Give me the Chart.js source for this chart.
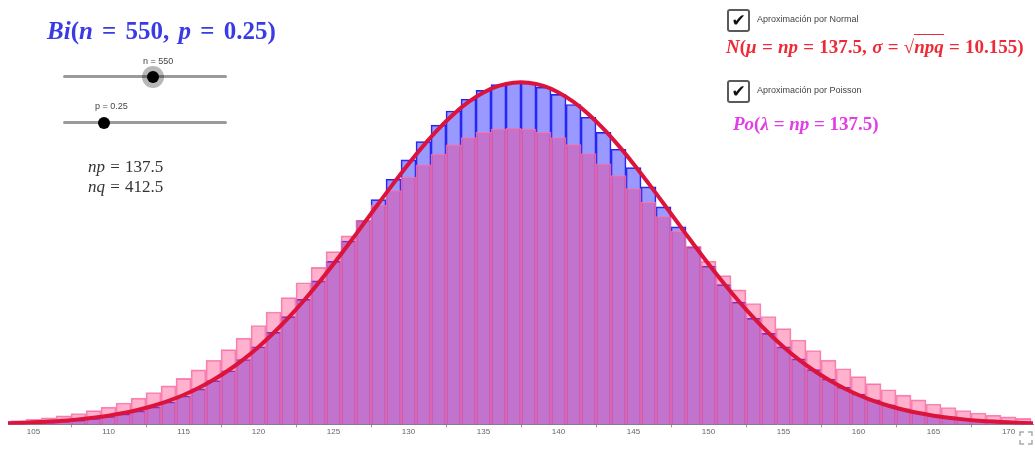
<!DOCTYPE html>
<html>
<head>
<meta charset="utf-8">
<script src="https://cdn.jsdelivr.net/npm/chart.js@4.4.1/dist/chart.umd.min.js"></script>
<style>
  html, body { margin: 0; padding: 0; background: #fff; }
  #wrap { position: relative; width: 1035px; height: 450px; overflow: hidden; }
  #chart { position: absolute; left: 0; top: 0; }
  .txt { position: absolute; white-space: nowrap; }
  .math { font-family: "Liberation Serif", serif; font-weight: bold; }
  .small { font-family: "Liberation Sans", Arial, sans-serif; font-size: 9px; color: #444; }
  .track { position: absolute; height: 3px; background: #9a9a9a; border-radius: 2px; }
  .knob { position: absolute; width: 12px; height: 12px; border-radius: 50%; background: #000; }
  .halo { position: absolute; width: 22px; height: 22px; border-radius: 50%; background: rgba(0,0,0,0.28); }
  .chk { position: absolute; width: 19px; height: 19px; border: 2px solid #5a5a5a; border-radius: 3px; background: #fff;
         font: 17px "DejaVu Sans", sans-serif; line-height: 19px; text-align: center; color: #111; }
  .sq { border-top: 1.5px solid currentColor; padding-top: 1px; }
</style>
</head>
<body>
<div id="wrap">
  <canvas id="chart" width="1035" height="450"></canvas>

  <div class="txt math" style="left:47px; top:17px; font-size:25px; word-spacing:3px; color:#3a3ae6;"><i>Bi</i>(<i>n</i> = 550, <i>p</i> = 0.25)</div>

  <div class="txt small" style="left:143px; top:56px;">n = 550</div>
  <div class="track" style="left:63px; top:75px; width:164px;"></div>
  <div class="halo" style="left:142px; top:66px;"></div>
  <div class="knob" style="left:147px; top:71px;"></div>

  <div class="txt small" style="left:95px; top:101px;">p = 0.25</div>
  <div class="track" style="left:63px; top:121px; width:164px;"></div>
  <div class="knob" style="left:98px; top:117px;"></div>

  <div class="txt" style="left:88px; top:157px; font:17px 'Liberation Serif', serif; word-spacing:1px; color:#333;"><i>np</i> = 137.5</div>
  <div class="txt" style="left:88px; top:177px; font:17px 'Liberation Serif', serif; word-spacing:1px; color:#333;"><i>nq</i> = 412.5</div>

  <div class="chk" style="left:727px; top:9px;">✔</div>
  <div class="txt small" style="left:757px; top:14px;">Aproximación por Normal</div>
  <div class="txt math" style="left:726px; top:36px; font-size:19px; word-spacing:0.5px; color:#ee2a36;"><i>N</i>(<i>μ</i> = <i>np</i> = 137.5, <i>σ</i> = √<span class="sq"><i>npq</i></span> = 10.155)</div>

  <div class="chk" style="left:727px; top:80px;">✔</div>
  <div class="txt small" style="left:757px; top:85px;">Aproximación por Poisson</div>
  <div class="txt math" style="left:733px; top:113px; font-size:19px; color:#e23de6;"><i>Po</i>(<i>λ</i> = <i>np</i> = 137.5)</div>

  <svg class="txt" style="left:1019px; top:431px;" width="14" height="14" viewBox="0 0 14 14">
    <path d="M1 5V1H5 M9 1H13V5 M13 9V13H9 M5 13H1V9" fill="none" stroke="#aaa" stroke-width="1.5"/>
  </svg>
</div>

<script>
// valores k de las barras
const kValues = [103, 104, 105, 106, 107, 108, 109, 110, 111, 112, 113, 114, 115, 116, 117, 118, 119, 120,
  121, 122, 123, 124, 125, 126, 127, 128, 129, 130, 131, 132, 133, 134, 135, 136, 137, 138, 139, 140,
  141, 142, 143, 144, 145, 146, 147, 148, 149, 150, 151, 152, 153, 154, 155, 156, 157, 158, 159, 160,
  161, 162, 163, 164, 165, 166, 167, 168, 169, 170, 171];

// Bi(550, 0.25)
const binomValues = [0.0000935, 0.000134, 0.000189, 0.000265, 0.000366, 0.000500, 0.000676, 0.000904,
  0.001194, 0.001560, 0.002016, 0.002576, 0.003256, 0.004070, 0.005032, 0.006155, 0.007448, 0.008917,
  0.010563, 0.012381, 0.014361, 0.016484, 0.018726, 0.021054, 0.023430, 0.025810, 0.028144, 0.030381,
  0.032468, 0.034354, 0.035990, 0.037333, 0.038347, 0.039005, 0.039290, 0.039195, 0.038725, 0.037895,
  0.036730, 0.035264, 0.033538, 0.031597, 0.029490, 0.027268, 0.024980, 0.022673, 0.020391, 0.018171,
  0.016045, 0.014039, 0.012173, 0.010460, 0.008908, 0.007519, 0.006290, 0.005215, 0.004286, 0.003491,
  0.002819, 0.002256, 0.001790, 0.001408, 0.001098, 0.000849, 0.000651, 0.000495, 0.000373, 0.000279,
  0.000206];

// Po(137.5)
const poissonValues = [0.000342, 0.000452, 0.000592, 0.000768, 0.000986, 0.001256, 0.001584, 0.001980,
  0.002453, 0.003012, 0.003665, 0.004420, 0.005285, 0.006265, 0.007363, 0.008580, 0.009914, 0.011360,
  0.012909, 0.014549, 0.016264, 0.018035, 0.019839, 0.021650, 0.023440, 0.025180, 0.026839, 0.028387,
  0.029796, 0.031038, 0.032088, 0.032926, 0.033536, 0.033906, 0.034030, 0.033907, 0.033541, 0.032942,
  0.032124, 0.031106, 0.029910, 0.028560, 0.027083, 0.025506, 0.023858, 0.022165, 0.020454, 0.018750,
  0.017074, 0.015445, 0.013880, 0.012393, 0.010994, 0.009690, 0.008486, 0.007385, 0.006386, 0.005488,
  0.004687, 0.003978, 0.003356, 0.002814, 0.002345, 0.001942, 0.001599, 0.001309, 0.001065, 0.000861,
  0.000693];

// curva N(137.5, 10.155)
const normalX = [102, 103, 104, 105, 106, 107, 108, 109, 110, 111, 112, 113, 114, 115, 116, 117, 118, 119,
  120, 121, 122, 123, 124, 125, 126, 127, 128, 129, 130, 131, 132, 133, 134, 135, 136, 137, 138, 139,
  140, 141, 142, 143, 144, 145, 146, 147, 148, 149, 150, 151, 152, 153, 154, 155, 156, 157, 158, 159,
  160, 161, 162, 163, 164, 165, 166, 167, 168, 169, 170, 171, 172, 173];
const normalValues = [0.0000872, 0.000122, 0.000170, 0.000234, 0.000320, 0.000432, 0.000578, 0.000765,
  0.001004, 0.001305, 0.001679, 0.002139, 0.002700, 0.003374, 0.004177, 0.005120, 0.006217, 0.007474,
  0.008898, 0.010494, 0.012256, 0.014174, 0.016235, 0.018417, 0.020690, 0.023019, 0.025362, 0.027675,
  0.029908, 0.032008, 0.033926, 0.035611, 0.037020, 0.038112, 0.038859, 0.039237, 0.039237, 0.038859,
  0.038112, 0.037020, 0.035611, 0.033926, 0.032008, 0.029908, 0.027675, 0.025362, 0.023019, 0.020690,
  0.018417, 0.016235, 0.014174, 0.012256, 0.010494, 0.008898, 0.007474, 0.006217, 0.005120, 0.004177,
  0.003374, 0.002700, 0.002139, 0.001679, 0.001305, 0.001004, 0.000765, 0.000578, 0.000432, 0.000320,
  0.000234, 0.000170, 0.000122, 0.0000872];

const xTicks = [105, 110, 115, 120, 125, 130, 135, 140, 145, 150, 155, 160, 165, 170];

const toPoints = (xs, ys) => xs.map((x, i) => ({ x: x, y: ys[i] }));

const ctx = document.getElementById("chart").getContext("2d");
new Chart(ctx, {
  type: "bar",
  data: {
    datasets: [
      {
        type: "line",
        label: "Normal",
        data: toPoints(normalX, normalValues),
        borderColor: "#dc143c",
        borderWidth: 4,
        pointRadius: 0,
        tension: 0.4,
        fill: false,
        order: 0
      },
      {
        label: "Poisson",
        data: toPoints(kValues, poissonValues),
        backgroundColor: "rgba(255, 60, 130, 0.4)",
        borderColor: "rgba(245, 120, 170, 0.85)",
        borderWidth: 1,
        grouped: false,
        barPercentage: 1,
        categoryPercentage: 1,
        order: 1
      },
      {
        label: "Binomial",
        data: toPoints(kValues, binomValues),
        backgroundColor: "rgba(70, 70, 255, 0.55)",
        borderColor: "#2222f0",
        borderWidth: 1,
        grouped: false,
        barPercentage: 1,
        categoryPercentage: 1,
        order: 2
      }
    ]
  },
  options: {
    responsive: false,
    animation: false,
    layout: { padding: { left: 8, right: 2, top: 0, bottom: 13 } },
    scales: {
      x: {
        type: "linear",
        min: 103.3,
        max: 171.63,
        offset: false,
        afterBuildTicks: (axis) => { axis.ticks = xTicks.map(v => ({ value: v })); },
        ticks: {
          color: "#666",
          font: { size: 8, family: "Liberation Sans" },
          padding: 0,
          maxRotation: 0,
          autoSkip: false
        },
        grid: { drawOnChartArea: false, drawTicks: true, tickLength: 3, color: "#999" },
        border: { display: true, color: "#888", width: 1 }
      },
      y: {
        display: false,
        min: 0,
        max: 0.04873
      }
    },
    plugins: {
      legend: { display: false },
      tooltip: { enabled: false }
    }
  }
});
</script>
</body>
</html>
